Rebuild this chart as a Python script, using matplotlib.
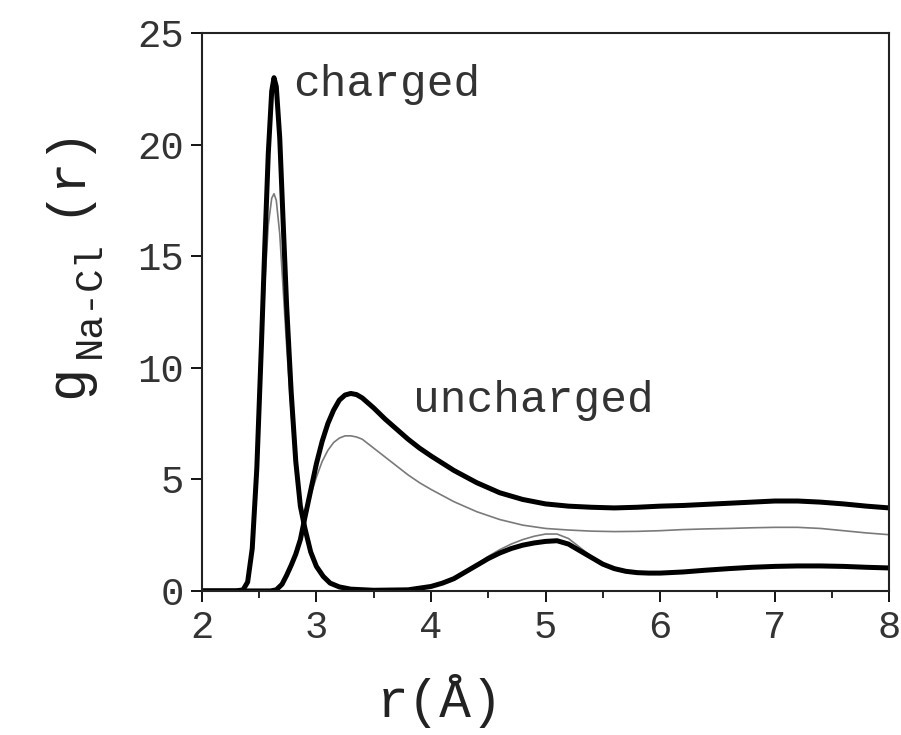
import numpy as np
import matplotlib
matplotlib.use("Agg")
import matplotlib.pyplot as plt
from matplotlib.ticker import MultipleLocator

plt.rcParams['font.family'] = ['Liberation Mono', 'DejaVu Sans Mono']

# charged system, thick = full model, thin = reduced model
r_ch = [2.00, 2.30, 2.36, 2.40, 2.44, 2.48, 2.52, 2.55, 2.58, 2.61, 2.63, 2.65, 2.68,
        2.71, 2.74, 2.78, 2.82, 2.86, 2.90, 2.95, 3.00, 3.06, 3.12, 3.20, 3.30, 3.50,
        3.80, 4.00, 4.10, 4.20, 4.30, 4.40, 4.50, 4.60, 4.70, 4.80, 4.90, 5.00, 5.10,
        5.20, 5.30, 5.40, 5.50, 5.60, 5.70, 5.80, 5.90, 6.00, 6.20, 6.40, 6.60, 6.80,
        7.00, 7.20, 7.40, 7.60, 7.80, 8.00]
g_ch_thick = [0, 0, 0.05, 0.4, 1.9, 5.5, 11.0, 15.5, 19.6, 22.4, 23.0, 22.6, 20.3,
              16.5, 12.8, 8.9, 5.8, 3.8, 2.8, 1.75, 1.1, 0.65, 0.35, 0.18, 0.08, 0.03,
              0.05, 0.2, 0.35, 0.55, 0.85, 1.15, 1.45, 1.7, 1.9, 2.05, 2.15, 2.22, 2.25,
              2.1, 1.8, 1.5, 1.2, 1.0, 0.88, 0.82, 0.8, 0.8, 0.85, 0.93, 1.0, 1.06,
              1.1, 1.12, 1.12, 1.1, 1.06, 1.03]
g_ch_thin = [0, 0, 0.05, 0.4, 1.8, 5.2, 10.2, 13.8, 16.4, 17.6, 17.8, 17.5, 16.0,
             13.5, 11.0, 8.0, 5.5, 3.6, 2.6, 1.6, 1.0, 0.6, 0.33, 0.17, 0.08, 0.03,
             0.05, 0.2, 0.35, 0.55, 0.85, 1.2, 1.55, 1.85, 2.1, 2.3, 2.45, 2.55, 2.55,
             2.35, 1.95, 1.55, 1.2, 1.0, 0.88, 0.82, 0.8, 0.8, 0.85, 0.93, 1.0, 1.06,
             1.1, 1.12, 1.12, 1.1, 1.06, 1.03]

# uncharged system
r_un = [2.00, 2.60, 2.65, 2.70, 2.74, 2.78, 2.82, 2.86, 2.90, 2.95, 3.00, 3.05, 3.10,
        3.15, 3.20, 3.25, 3.30, 3.35, 3.40, 3.50, 3.60, 3.70, 3.80, 3.90, 4.00, 4.20,
        4.40, 4.60, 4.80, 5.00, 5.20, 5.40, 5.60, 5.80, 6.00, 6.20, 6.40, 6.60, 6.80,
        7.00, 7.20, 7.40, 7.60, 7.80, 8.00]
g_un_thick = [0, 0, 0.05, 0.3, 0.7, 1.15, 1.65, 2.3, 3.3, 4.5, 5.7, 6.7, 7.5,
              8.1, 8.55, 8.78, 8.85, 8.8, 8.65, 8.2, 7.7, 7.25, 6.8, 6.4, 6.05, 5.4,
              4.85, 4.4, 4.1, 3.9, 3.8, 3.75, 3.72, 3.75, 3.8, 3.83, 3.88, 3.93, 3.98,
              4.03, 4.03, 3.98, 3.9, 3.8, 3.72]
g_un_thin = [0, 0, 0.05, 0.3, 0.7, 1.15, 1.65, 2.3, 3.3, 4.3, 5.1, 5.8, 6.3,
             6.65, 6.85, 6.95, 6.95, 6.9, 6.8, 6.4, 6.0, 5.6, 5.2, 4.85, 4.55, 4.0,
             3.55, 3.2, 2.95, 2.8, 2.73, 2.68, 2.66, 2.67, 2.7, 2.75, 2.78, 2.8, 2.83,
             2.85, 2.85, 2.8, 2.7, 2.6, 2.52]

fig = plt.figure(figsize=(9.01, 7.35), dpi=100)
ax = fig.add_axes([0.224, 0.196, 0.763, 0.759])

# thin curves underneath so the thick ones cover them where they overlap
ax.plot(r_ch, g_ch_thin, color='#7a7a7a', lw=1.2)
ax.plot(r_un, g_un_thin, color='#7a7a7a', lw=1.2)
ax.plot(r_ch, g_ch_thick, color='black', lw=3.6, solid_joinstyle='round')
ax.plot(r_un, g_un_thick, color='black', lw=3.6, solid_joinstyle='round')

ax.set_xlim(2, 8)
ax.set_ylim(0, 25)
ax.xaxis.set_major_locator(MultipleLocator(1))
ax.xaxis.set_minor_locator(MultipleLocator(0.5))
ax.yaxis.set_major_locator(MultipleLocator(5))
ax.tick_params(axis='both', which='major', direction='out', length=8, width=1.3,
               labelsize=28, labelcolor='#333333')
ax.tick_params(axis='x', which='minor', direction='out', length=5, width=1.2)
ax.tick_params(axis='x', pad=6)
ax.tick_params(axis='y', pad=5)
for s in ax.spines.values():
    s.set_linewidth(1.5)
    s.set_color('#222222')

ax.text(2.8, 22.7, 'charged', fontsize=32, color='#333333', va='center')
ax.text(3.84, 8.55, 'uncharged', fontsize=32, color='#333333', va='center')

# axis labels, built from pieces so the subscript size can be set
fig.text(0.488, 0.024, 'r(Å)', fontsize=38, color='#222222', ha='center', va='baseline')
fig.text(0.091, 0.4585, 'g', fontsize=40, rotation=90, rotation_mode='anchor',
         ha='left', va='baseline', color='#222222')
fig.text(0.111, 0.513, 'Na-Cl', fontsize=28, rotation=90, rotation_mode='anchor',
         ha='left', va='baseline', color='#222222')
fig.text(0.0855, 0.706, '(r)', fontsize=38, rotation=90, rotation_mode='anchor',
         ha='left', va='baseline', color='#222222')

fig.savefig('out.png', dpi=100)
